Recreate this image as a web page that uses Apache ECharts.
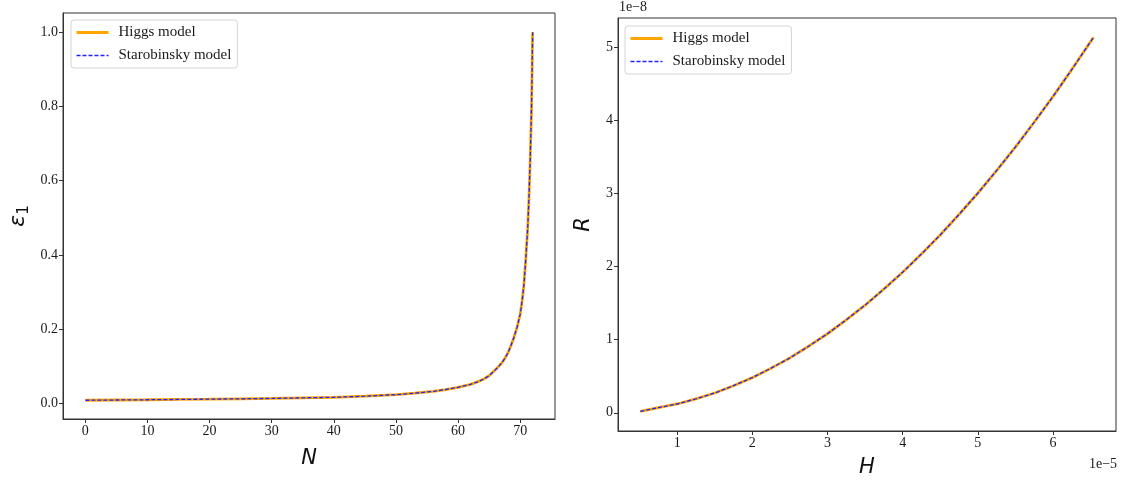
<!DOCTYPE html>
<html>
<head>
<meta charset="utf-8">
<script src="https://cdn.jsdelivr.net/npm/echarts@6/dist/echarts.min.js"></script>
<style>
html,body{margin:0;padding:0;background:#fff;}
#c{width:1123px;height:483px;}
</style>
</head>
<body>
<div id="c"></div>
<script>
// Left panel: epsilon_1 vs N
const N_values = [0,5,10,15,20,25,30,35,40,45,50,53,56,58,60,62,63,64,65,66,67,67.5,68,68.5,69,69.5,70,70.3,70.6,70.9,71.2,71.4,71.6,71.8,71.9,72];
const eps1_values = [0.008,0.0087,0.0094,0.0102,0.011,0.012,0.013,0.0145,0.016,0.019,0.023,0.027,0.032,0.037,0.043,0.051,0.057,0.064,0.074,0.09,0.108,0.12,0.135,0.155,0.178,0.205,0.24,0.275,0.32,0.39,0.47,0.55,0.65,0.78,0.88,1.0];
// Right panel: R vs H (units: H in 1e-5, R in 1e-8)
const H_values = [0.51,0.75,1.0,1.25,1.5,1.75,2.0,2.25,2.5,2.75,3.0,3.25,3.5,3.75,4.0,4.25,4.5,4.75,5.0,5.25,5.5,5.75,6.0,6.25,6.54];
const R_values = [0.02,0.07,0.12,0.19,0.27,0.37,0.48,0.61,0.75,0.91,1.08,1.27,1.47,1.69,1.92,2.17,2.43,2.71,3.0,3.31,3.63,3.97,4.32,4.69,5.13];

const N_ticks = [0,10,20,30,40,50,60,70];
const eps_ticks = [0,0.2,0.4,0.6,0.8,1.0];
const H_ticks = [1,2,3,4,5,6];
const R_ticks = [0,1,2,3,4,5];
const seriesNames = ['Higgs model','Starobinsky model'];

const pair = (xs, ys) => xs.map((x, i) => [x, ys[i]]);
const leftData = pair(N_values, eps1_values);
const rightData = pair(H_values, R_values);

const serif = 'Liberation Serif';
const tickFont = {fontFamily: serif, fontSize: 14, color: '#1a1a1a'};
const axisNameStyle = {fontFamily: 'DejaVu Sans', fontStyle: 'italic', fontSize: 21, color: '#111'};

function xAxis(grid, min, max, ticks, name, gap) {
  return {
    type: 'value', gridIndex: grid, min: min, max: max,
    name: name, nameLocation: 'middle', nameGap: gap, nameTextStyle: axisNameStyle,
    axisLine: {show: true, onZero: false, lineStyle: {color: '#333', width: 1}},
    axisTick: {show: true, inside: false, length: 4, customValues: ticks, lineStyle: {color: '#333'}},
    axisLabel: Object.assign({customValues: ticks, margin: 5}, tickFont),
    splitLine: {show: false}
  };
}
function yAxis(grid, min, max, ticks, name, gap, fmt, nameStyle) {
  return {
    type: 'value', gridIndex: grid, min: min, max: max,
    name: name, nameLocation: 'middle', nameGap: gap, nameRotate: 90, nameTextStyle: nameStyle || axisNameStyle,
    axisLine: {show: true, onZero: false, lineStyle: {color: '#333', width: 1}},
    axisTick: {show: true, inside: false, length: 4, customValues: ticks, lineStyle: {color: '#333'}},
    axisLabel: Object.assign({customValues: ticks, margin: 5, formatter: fmt}, tickFont),
    splitLine: {show: false}
  };
}
function lineSeries(name, grid, data, isDashed) {
  return {
    name: name, type: 'line', xAxisIndex: grid, yAxisIndex: grid, data: data,
    showSymbol: false, symbol: 'none', smooth: false, animation: false,
    z: isDashed ? 3 : 2,
    lineStyle: isDashed ? {color: '#2222ff', width: 1.3, type: [4, 2]} : {color: '#ffa500', width: 2.8},
    itemStyle: {color: isDashed ? '#2222ff' : '#ffa500'}
  };
}
function legend(left, top) {
  return {
    data: [
      {name: seriesNames[0], lineStyle: {width: 3, color: '#ffa500'}},
      {name: seriesNames[1], lineStyle: {width: 1.4, color: '#2222ff', type: [4, 2]}}
    ],
    orient: 'vertical', left: left, top: top,
    itemWidth: 32, itemHeight: 14, itemGap: 8,
    padding: [5, 6, 5, 4],
    borderColor: '#d4d4d4', borderWidth: 1, borderRadius: 3,
    backgroundColor: 'rgba(255,255,255,0.85)',
    itemStyle: {opacity: 0, borderWidth: 0},
    textStyle: {fontFamily: serif, fontSize: 15, color: '#1a1a1a', padding: [0, 0, 0, 5]},
    selectedMode: false
  };
}

const epsNameStyle = {
  color: '#111',
  rich: {
    e: {fontFamily: 'DejaVu Sans', fontStyle: 'italic', fontSize: 22, color: '#111', lineHeight: 28, verticalAlign: 'middle'},
    s: {fontFamily: 'DejaVu Sans', fontSize: 15, color: '#111', lineHeight: 28, verticalAlign: 'bottom', padding: [8, 0, 0, 0]}
  }
};

const chart = echarts.init(document.getElementById('c'));
chart.setOption({
  animation: false,
  backgroundColor: '#fff',
  grid: [
    {left: 63, top: 13, width: 492, height: 406, show: true, borderColor: '#333', borderWidth: 1, backgroundColor: 'transparent'},
    {left: 618, top: 18, width: 498, height: 413, show: true, borderColor: '#333', borderWidth: 1, backgroundColor: 'transparent'}
  ],
  xAxis: [
    xAxis(0, -3.6, 75.6, N_ticks, 'N', 29),
    xAxis(1, 0.213, 6.839, H_ticks, 'H', 26)
  ],
  yAxis: [
    yAxis(0, -0.0425, 1.052, eps_ticks, '{e|ε}{s|1}', 31, v => v.toFixed(1), epsNameStyle),
    yAxis(1, -0.249, 5.395, R_ticks, 'R', 24, v => String(v))
  ],
  legend: [legend(71, 20), legend(625, 26)],
  series: [
    lineSeries(seriesNames[0], 0, leftData, false),
    lineSeries(seriesNames[1], 0, leftData, true),
    lineSeries(seriesNames[0], 1, rightData, false),
    lineSeries(seriesNames[1], 1, rightData, true)
  ],
  graphic: [
    {type: 'text', left: 619, top: 0, style: {text: '1e−8', fontFamily: serif, fontSize: 14, fill: '#1a1a1a'}},
    {type: 'text', left: 1089, top: 457, style: {text: '1e−5', fontFamily: serif, fontSize: 14, fill: '#1a1a1a'}}
  ]
});
</script>
</body>
</html>
